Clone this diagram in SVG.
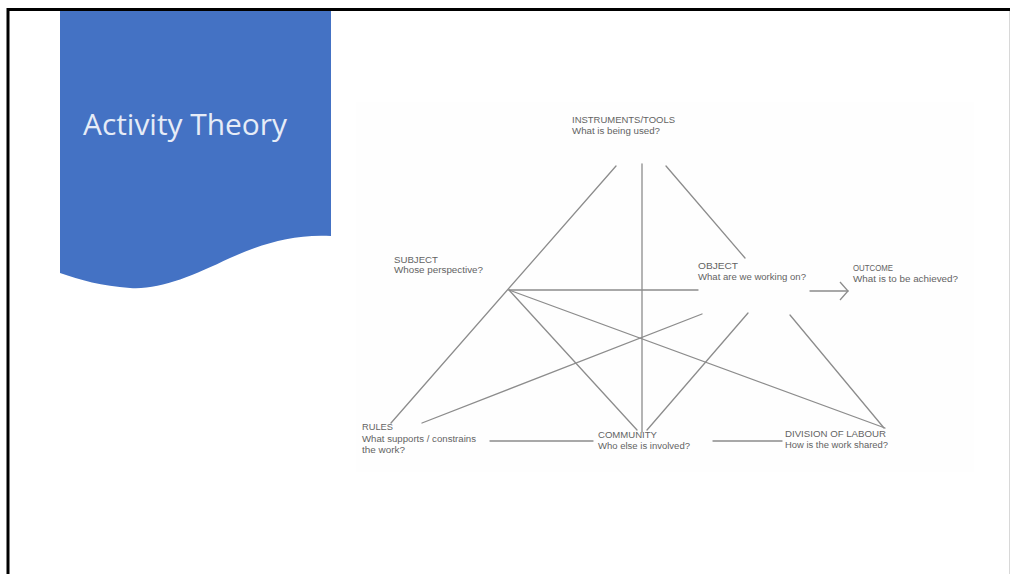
<svg xmlns="http://www.w3.org/2000/svg" width="1014" height="574" viewBox="0 0 1014 574">
  <style>
    .lbl { font-family: "Liberation Sans", Arial, sans-serif; font-size: 8.3px; fill: #636363; }
    .edge { stroke: #8c8c8c; stroke-width: 1.3; fill: none; stroke-linecap: round; }
    .title { font-family: "Open Sans", "Liberation Sans", sans-serif; font-size: 30px; fill: #e6ecf7; }
  </style>
  <defs>
    <marker id="chev" markerWidth="12" markerHeight="20" refX="9" refY="10" orient="auto" markerUnits="userSpaceOnUse">
      <path d="M1,1 L9,10 L1,19" fill="none" stroke="#8c8c8c" stroke-width="1.3"/>
    </marker>
  </defs>

  <!-- slide background and frame -->
  <rect x="0" y="0" width="1014" height="574" fill="#ffffff"/>
  <rect x="356" y="102" width="618" height="370" fill="#fefefe"/>
  <line x1="8" y1="9.5" x2="1010" y2="9.5" stroke="#000" stroke-width="3"/>
  <line x1="8" y1="8" x2="8" y2="574" stroke="#000" stroke-width="3"/>
  <line x1="1009.5" y1="11" x2="1009.5" y2="574" stroke="#d8d8d8" stroke-width="1"/>

  <!-- title banner -->
  <g id="banner">
    <path d="M60,11 H331 V236 C292,234 262,244 230,258 C192,276 160,290 130,288 C102,286 80,280 60,273 Z" fill="#4472c4"/>
    <text class="title" x="83" y="135" textLength="204" lengthAdjust="spacingAndGlyphs">Activity Theory</text>
  </g>

  <!-- connectors -->
  <g id="connectors">
    <line class="edge" x1="616" y1="166" x2="391" y2="423"/>
    <line class="edge" x1="642" y1="164" x2="642" y2="432"/>
    <line class="edge" x1="666" y1="166" x2="745" y2="258"/>
    <line class="edge" x1="509" y1="290" x2="698" y2="290"/>
    <line class="edge" x1="509" y1="290" x2="637" y2="430"/>
    <line class="edge" x1="509" y1="290" x2="885" y2="428"/>
    <line class="edge" x1="422" y1="423" x2="702" y2="314"/>
    <line class="edge" x1="748" y1="313" x2="647" y2="430"/>
    <line class="edge" x1="790" y1="315" x2="884" y2="428"/>
    <line class="edge" x1="490" y1="441" x2="593" y2="441"/>
    <line class="edge" x1="713" y1="441" x2="782" y2="441"/>
    <line class="edge" x1="810" y1="291" x2="848" y2="291" marker-end="url(#chev)"/>
  </g>

  <!-- nodes -->
  <g id="node-instruments">
    <text class="lbl" x="572" y="123" textLength="103" lengthAdjust="spacingAndGlyphs">INSTRUMENTS/TOOLS</text>
    <text class="lbl" x="572" y="134" textLength="88" lengthAdjust="spacingAndGlyphs">What is being used?</text>
  </g>
  <g id="node-subject">
    <text class="lbl" x="394" y="263" textLength="44" lengthAdjust="spacingAndGlyphs">SUBJECT</text>
    <text class="lbl" x="394" y="273" textLength="89" lengthAdjust="spacingAndGlyphs">Whose perspective?</text>
  </g>
  <g id="node-object">
    <text class="lbl" x="698" y="269" textLength="40" lengthAdjust="spacingAndGlyphs">OBJECT</text>
    <text class="lbl" x="698" y="280" textLength="108" lengthAdjust="spacingAndGlyphs">What are we working on?</text>
  </g>
  <g id="node-outcome">
    <text class="lbl" x="853" y="271" textLength="40" lengthAdjust="spacingAndGlyphs">OUTCOME</text>
    <text class="lbl" x="853" y="282" textLength="105" lengthAdjust="spacingAndGlyphs">What is to be achieved?</text>
  </g>
  <g id="node-rules">
    <text class="lbl" x="362" y="430" textLength="31" lengthAdjust="spacingAndGlyphs">RULES</text>
    <text class="lbl" x="362" y="442" textLength="114" lengthAdjust="spacingAndGlyphs">What supports / constrains</text>
    <text class="lbl" x="362" y="453" textLength="43" lengthAdjust="spacingAndGlyphs">the work?</text>
  </g>
  <g id="node-community">
    <text class="lbl" x="598" y="438" textLength="59" lengthAdjust="spacingAndGlyphs">COMMUNITY</text>
    <text class="lbl" x="598" y="449" textLength="92" lengthAdjust="spacingAndGlyphs">Who else is involved?</text>
  </g>
  <g id="node-division">
    <text class="lbl" x="785" y="437" textLength="101" lengthAdjust="spacingAndGlyphs">DIVISION OF LABOUR</text>
    <text class="lbl" x="785" y="448" textLength="103" lengthAdjust="spacingAndGlyphs">How is the work shared?</text>
  </g>
</svg>
